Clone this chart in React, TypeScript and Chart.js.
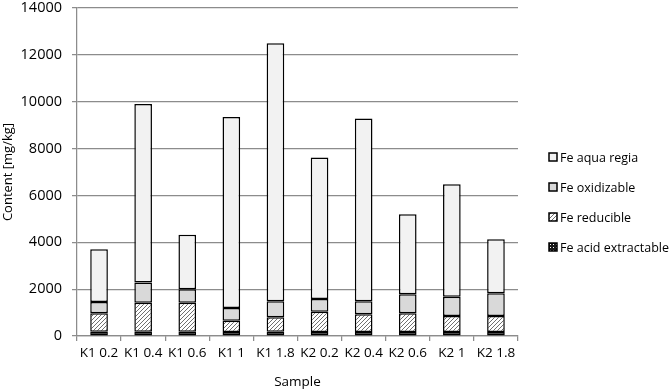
import React, { useEffect, useRef } from "react";
import { Chart, registerables } from "chart.js";

Chart.register(...registerables);

const categories = ["K1 0.2", "K1 0.4", "K1 0.6", "K1 1", "K1 1.8", "K2 0.2", "K2 0.4", "K2 0.6", "K2 1", "K2 1.8"];
const feAcidExtractable = [180, 180, 180, 170, 180, 170, 170, 170, 170, 170];
const feReducible = [790, 1240, 1240, 485, 620, 870, 755, 800, 685, 685];
const feOxidizable = [480, 860, 580, 545, 680, 540, 555, 810, 825, 965];
const feAquaRegia = [2250, 7620, 2320, 8150, 11020, 6040, 7800, 3420, 4800, 2310];
const yTickValues = [0, 2000, 4000, 6000, 8000, 10000, 12000, 14000];

const FONT = "'Open Sans', sans-serif";
const GRID = "#8c8c8c";

function hatchPattern(ctx: CanvasRenderingContext2D) {
  const c = document.createElement("canvas");
  c.width = 4;
  c.height = 4;
  const g = c.getContext("2d")!;
  g.fillStyle = "#ffffff";
  g.fillRect(0, 0, 4, 4);
  g.strokeStyle = "#707070";
  g.lineWidth = 1;
  g.beginPath();
  g.moveTo(0, 4);
  g.lineTo(4, 0);
  g.moveTo(-1, 1);
  g.lineTo(1, -1);
  g.moveTo(3, 5);
  g.lineTo(5, 3);
  g.stroke();
  return ctx.createPattern(c, "repeat")!;
}

function dotPattern(ctx: CanvasRenderingContext2D) {
  const c = document.createElement("canvas");
  c.width = 3;
  c.height = 3;
  const g = c.getContext("2d")!;
  g.fillStyle = "#1a1a1a";
  g.fillRect(0, 0, 3, 3);
  g.fillStyle = "#ffffff";
  g.fillRect(1, 1, 1, 1);
  return ctx.createPattern(c, "repeat")!;
}

const legendPlugin = {
  id: "rightLegend",
  afterDraw(chart: any) {
    const ctx = chart.ctx as CanvasRenderingContext2D;
    const items = [...chart.data.datasets].reverse();
    const x0 = chart.chartArea.right + 31;
    const yStart = 157;
    const step = 30;
    items.forEach((ds: any, i: number) => {
      const y = yStart + i * step;
      ctx.save();
      ctx.fillStyle = ds.backgroundColor;
      ctx.fillRect(x0, y - 4, 8, 8);
      ctx.strokeStyle = "#000";
      ctx.lineWidth = 1.5;
      ctx.strokeRect(x0, y - 4, 8, 8);
      ctx.fillStyle = "#000";
      ctx.font = `12.5px ${FONT}`;
      ctx.textBaseline = "middle";
      ctx.textAlign = "left";
      ctx.fillText(ds.label, x0 + 11, y + 1);
      ctx.restore();
    });
  },
};

export default function App() {
  const ref = useRef<HTMLCanvasElement>(null);

  useEffect(() => {
    document.body.style.margin = "0";
    const canvas = ref.current!;
    const ctx = canvas.getContext("2d")!;
    const common = {
      borderColor: "#000000",
      borderWidth: 1.5,
      borderSkipped: false as const,
      barPercentage: 0.4,
      categoryPercentage: 1,
    };
    const chart = new Chart(ctx, {
      type: "bar",
      data: {
        labels: categories,
        datasets: [
          { label: "Fe acid extractable", data: feAcidExtractable, backgroundColor: dotPattern(ctx) as any, ...common },
          { label: "Fe reducible", data: feReducible, backgroundColor: hatchPattern(ctx) as any, ...common },
          { label: "Fe oxidizable", data: feOxidizable, backgroundColor: "#d9d9d9", ...common },
          { label: "Fe aqua regia", data: feAquaRegia, backgroundColor: "#f2f2f2", ...common },
        ],
      },
      options: {
        responsive: false,
        animation: false,
        devicePixelRatio: 1,
        layout: { padding: { top: 8, right: 154, left: 0, bottom: 0 } },
        plugins: { legend: { display: false }, tooltip: { enabled: false } },
        scales: {
          x: {
            stacked: true,
            grid: { drawOnChartArea: false, drawTicks: true, tickLength: 5, color: GRID, lineWidth: 1.25, offset: true },
            border: { color: GRID, width: 1.25 },
            ticks: { font: { family: FONT, size: 13.5 }, color: "#000", padding: 4, maxRotation: 0, autoSkip: false },
            title: { display: true, text: "Sample", font: { family: FONT, size: 13.5 }, color: "#000", padding: { top: 0, bottom: 2 } },
            afterFit: (scale: any) => {
              scale.height = 56;
              scale.paddingLeft = 0;
              scale.paddingRight = 0;
            },
          },
          y: {
            stacked: true,
            min: 0,
            max: 14000,
            afterBuildTicks: (scale: any) => {
              scale.ticks = yTickValues.map((v) => ({ value: v }));
            },
            grid: { color: GRID, lineWidth: 1.25, tickLength: 5 },
            border: { color: GRID, width: 1.25 },
            ticks: {
              font: { family: FONT, size: 14.5 },
              color: "#000",
              padding: 10,
              callback: (v: any) => String(v),
            },
            title: { display: true, text: "Content [mg/kg]", font: { family: FONT, size: 13 }, color: "#000", padding: { top: 0, bottom: 0 } },
            afterFit: (scale: any) => {
              scale.width = 77;
              scale.paddingTop = 0;
              scale.paddingBottom = 0;
            },
          },
        },
      },
      plugins: [legendPlugin],
    });
    return () => chart.destroy();
  }, []);

  return (
    <div style={{ width: 672, height: 392 }}>
      <canvas ref={ref} width={672} height={392} style={{ display: "block", width: 672, height: 392 }} />
    </div>
  );
}
